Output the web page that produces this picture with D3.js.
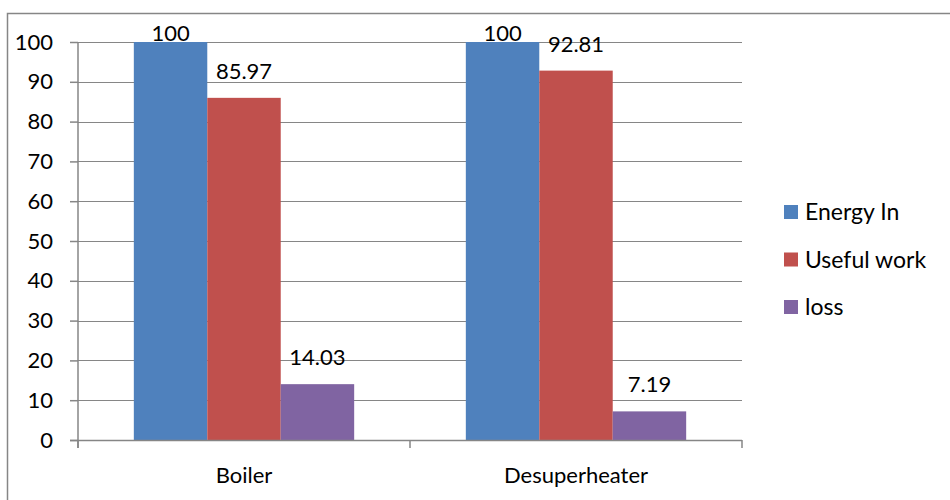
<!DOCTYPE html>
<html>
<head>
<meta charset="utf-8">
<script src="https://cdn.jsdelivr.net/npm/d3@7"></script>
<style>
  html, body { margin: 0; padding: 0; background: #fff; }
  svg { display: block; font-family: Lato, "Open Sans", sans-serif; }
</style>
</head>
<body>
<svg id="chart" width="950" height="500"></svg>
<script>
// Energy balance per component (percent)
const categories = ["Boiler", "Desuperheater"];
const seriesNames = ["Energy In", "Useful work", "loss"];
const energyIn = [100, 100];
const usefulWork = [85.97, 92.81];
const loss = [14.03, 7.19];
const yTicks = [0, 10, 20, 30, 40, 50, 60, 70, 80, 90, 100];
const colors = ["#4F81BD", "#C0504D", "#8064A2"];

const seriesValues = [energyIn, usefulWork, loss];
const rows = categories.map((c, i) => ({
  category: c,
  values: seriesNames.map((s, j) => ({ series: s, value: seriesValues[j][i], color: colors[j] }))
}));

const svg = d3.select("#chart");
const grid = "#868686";
const fontSize = 22;
const plot = { left: 78, right: 742, top: 42, bottom: 440 };

// outer chart frame
svg.append("rect")
  .attr("x", 7.5).attr("y", 13.5)
  .attr("width", 960).attr("height", 520)
  .attr("fill", "none").attr("stroke", grid).attr("stroke-width", 1.5);

const y = d3.scaleLinear().domain([0, 100]).range([plot.bottom, plot.top]);
const x0 = d3.scaleBand().domain(categories).range([plot.left, plot.right]).paddingInner(0).paddingOuter(0);
const x1 = d3.scaleBand().domain(seriesNames).range([0, x0.bandwidth()]).paddingInner(0).paddingOuter(0.76);

// horizontal gridlines
svg.append("g").selectAll("line").data(yTicks.filter(t => t > 0)).join("line")
  .attr("x1", plot.left).attr("x2", plot.right)
  .attr("y1", d => Math.round(y(d)) + 0.5).attr("y2", d => Math.round(y(d)) + 0.5)
  .attr("stroke", grid).attr("stroke-width", 1);

// y axis
const yAxis = svg.append("g").attr("transform", `translate(${plot.left},0)`)
  .call(d3.axisLeft(y).tickValues(yTicks).tickSize(8).tickPadding(17).tickFormat(d3.format("d")));
yAxis.select(".domain").attr("stroke", grid).attr("stroke-width", 1.5).attr("d", `M0,${plot.top}V${plot.bottom + 8}`);
yAxis.selectAll(".tick line").attr("stroke", grid).attr("stroke-width", 1.5);
yAxis.selectAll(".tick text").attr("font-size", fontSize).attr("fill", "#000").attr("font-family", "Lato, sans-serif");

// bars
const groups = svg.append("g").selectAll("g").data(rows).join("g")
  .attr("transform", d => `translate(${x0(d.category)},0)`);
groups.selectAll("rect").data(d => d.values).join("rect")
  .attr("x", d => x1(d.series))
  .attr("width", x1.bandwidth())
  .attr("y", d => y(d.value))
  .attr("height", d => y(0) - y(d.value))
  .attr("fill", d => d.color);

// value labels
groups.selectAll("text").data(d => d.values).join("text")
  .attr("x", d => x1(d.series) + x1.bandwidth() / 2)
  .attr("y", d => Math.max(y(d.value) - 19, plot.top - 1))
  .attr("text-anchor", "middle")
  .attr("font-size", fontSize)
  .attr("fill", "#000")
  .text(d => d.value);

// x axis baseline and category separators
const xAxis = svg.append("g").attr("transform", `translate(0,${plot.bottom})`);
xAxis.append("line").attr("x1", plot.left - 8).attr("x2", plot.right)
  .attr("y1", 0.5).attr("y2", 0.5).attr("stroke", grid).attr("stroke-width", 1.5);
const bounds = categories.map(c => x0(c)).concat([x0.range()[1]]);
xAxis.selectAll("line.sep").data(bounds).join("line").attr("class", "sep")
  .attr("x1", d => d).attr("x2", d => d)
  .attr("y1", 0).attr("y2", 8)
  .attr("stroke", grid).attr("stroke-width", 1.5);
xAxis.selectAll("text").data(categories).join("text")
  .attr("x", d => x0(d) + x0.bandwidth() / 2)
  .attr("y", 43)
  .attr("text-anchor", "middle")
  .attr("font-size", fontSize)
  .attr("fill", "#000")
  .text(d => d);

// legend
const legend = svg.append("g").selectAll("g").data(seriesNames).join("g")
  .attr("transform", (d, i) => `translate(784,${212 + i * 47.5})`);
legend.append("rect").attr("x", 0).attr("y", -7).attr("width", 14).attr("height", 14)
  .attr("fill", (d, i) => colors[i]);
legend.append("text").attr("x", 21).attr("y", 8)
  .attr("font-size", 23).attr("fill", "#000").text(d => d);
</script>
</body>
</html>
